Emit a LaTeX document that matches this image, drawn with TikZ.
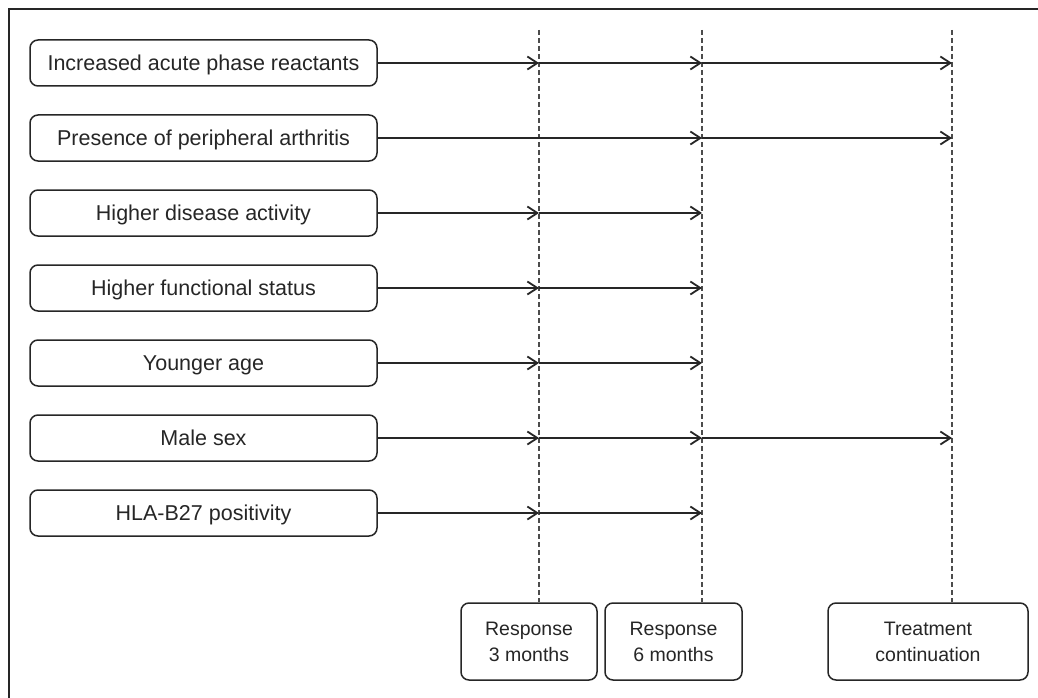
\documentclass[tikz,border=0pt]{standalone}
\usepackage{fontspec}
\setmainfont{Liberation Sans}
\usetikzlibrary{arrows.meta}
\begin{document}
\begin{tikzpicture}[x=1pt,y=-1pt,
  factor/.style={draw=black!85,line width=1.5pt,rounded corners=8pt,minimum width=347pt,minimum height=46pt,inner sep=0pt,text height=15.4pt,text depth=0pt,font=\fontsize{21.5}{24}\selectfont,text=black!85},
  outcome/.style={draw=black!85,line width=1.5pt,rounded corners=8pt,minimum height=77pt,inner sep=0pt,align=center,font=\fontsize{19.5}{26}\selectfont,text=black!85},
  guide/.style={dash pattern=on 5pt off 3pt,line width=1.2pt,draw=black!70},
  flow/.style={line width=1.7pt,draw=black!85,-{Straight Barb[length=10pt,width=13pt,line width=1.8pt]}}]
\useasboundingbox (0,0) rectangle (1038,698);
\fill[white] (0,0) rectangle (1038,698);
\draw[line width=2pt,black!85] (9,698) -- (9,9) -- (1038,9);
% factor boxes
\node[factor] (f1) at (203.5,63) {Increased acute phase reactants};
\node[factor] (f2) at (203.5,138) {Presence of peripheral arthritis};
\node[factor] (f3) at (203.5,213) {Higher disease activity};
\node[factor] (f4) at (203.5,288) {Higher functional status};
\node[factor] (f5) at (203.5,363) {Younger age};
\node[factor] (f6) at (203.5,438) {Male sex};
\node[factor] (f7) at (203.5,513) {HLA-B27 positivity};
% outcome boxes
\node[outcome,minimum width=136pt] (o1) at (529,641.5) {Response\\3 months};
\node[outcome,minimum width=137pt] (o2) at (673.5,641.5) {Response\\6 months};
\node[outcome,minimum width=200pt] (o3) at (928,641.5) {Treatment\\continuation};
% guide tops
\coordinate (t1) at (539,30);
\coordinate (t2) at (702,30);
\coordinate (t3) at (952,30);
\draw[guide] (t1) -- (t1 |- o1.north);
\draw[guide] (t2) -- (t2 |- o2.north);
\draw[guide] (t3) -- (t3 |- o3.north);
% crossing points
\foreach \i in {1,...,7}{
  \coordinate (a\i) at (t1 |- f\i.east);
  \coordinate (b\i) at (t2 |- f\i.east);
  \coordinate (c\i) at (t3 |- f\i.east);
}
% row 1
\draw[flow] (f1.east) -- (a1);
\draw[flow] (a1) -- (b1);
\draw[flow] (b1) -- (c1);
% row 2
\draw[flow] (f2.east) -- (b2);
\draw[flow] (b2) -- (c2);
% rows 3,4,5,7
\foreach \i in {3,4,5,7}{
  \draw[flow] (f\i.east) -- (a\i);
  \draw[flow] (a\i) -- (b\i);
}
% row 6
\draw[flow] (f6.east) -- (a6);
\draw[flow] (a6) -- (b6);
\draw[flow] (b6) -- (c6);
\end{tikzpicture}
\end{document}
